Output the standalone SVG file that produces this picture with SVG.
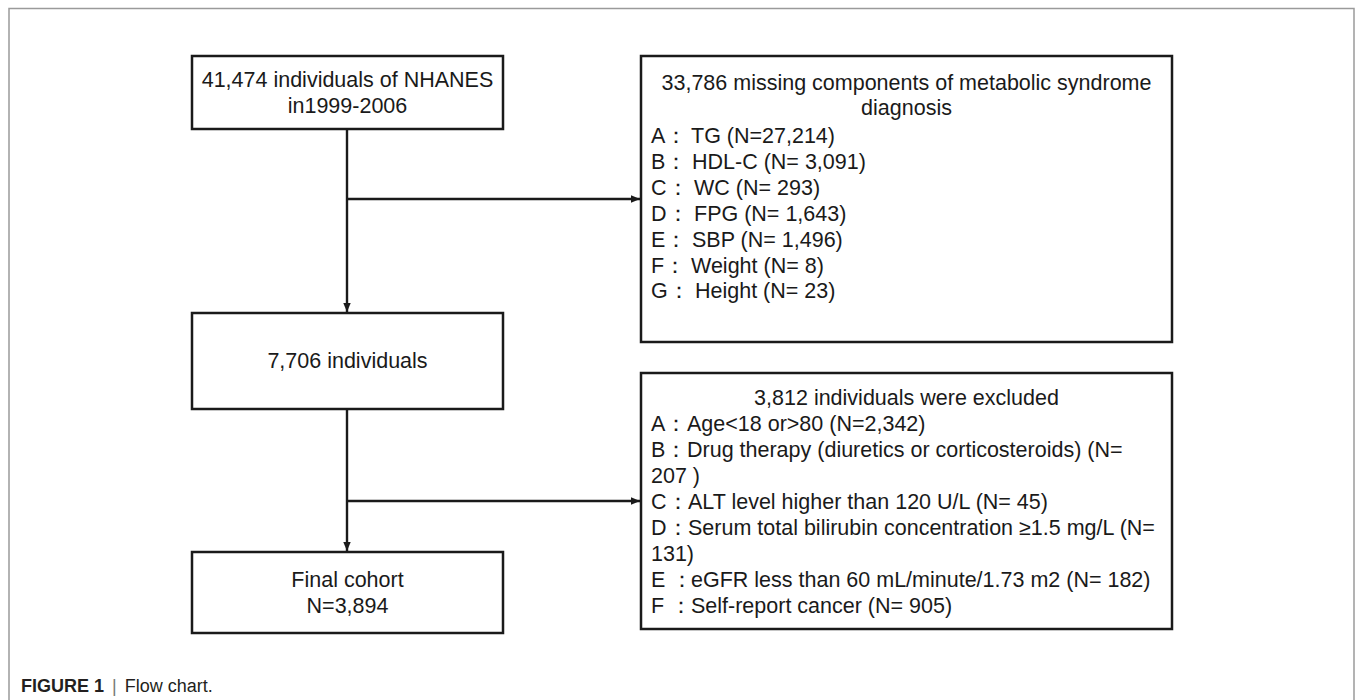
<svg xmlns="http://www.w3.org/2000/svg" width="1355" height="700" viewBox="0 0 1355 700">
<style>
.box{fill:#fff;stroke:#1a1a1a;stroke-width:2.5}
.t{font-family:"Liberation Sans",Arial,sans-serif;font-size:21.5px;fill:#1a1a1a}
.c{text-anchor:middle}
.conn{fill:none;stroke:#1a1a1a;stroke-width:2.4}
.cap{font-family:"Liberation Sans",Arial,sans-serif;font-size:18px;fill:#231f20}
</style>
<defs>
<marker id="ah" markerWidth="10" markerHeight="10" refX="9" refY="4.5" orient="auto" markerUnits="userSpaceOnUse">
<path d="M0,0.8 L9,4.5 L0,8.2 Z" fill="#1a1a1a"/>
</marker>
</defs>
<rect width="1355" height="700" fill="#fff"/>
<path d="M9,700 V8.5 H1354 V700" fill="none" stroke="#9a9a9a" stroke-width="1.5"/>

<g id="connectors">
<path class="conn" d="M347,129 V312" marker-end="url(#ah)"/>
<path class="conn" d="M347,199 H640" marker-end="url(#ah)"/>
<path class="conn" d="M347,409 V551" marker-end="url(#ah)"/>
<path class="conn" d="M347,501 H640" marker-end="url(#ah)"/>
</g>

<g id="n1">
<rect class="box" x="192" y="56" width="311" height="73"/>
<text class="t c" x="347.5" y="87">41,474 individuals of NHANES</text>
<text class="t c" x="347.5" y="113">in1999-2006</text>
</g>

<g id="n2">
<rect class="box" x="641" y="56" width="531" height="286"/>
<text class="t c" x="906.5" y="90">33,786 missing components of metabolic syndrome</text>
<text class="t c" x="906.5" y="115">diagnosis</text>
<text class="t" x="651" y="143">A：<tspan x="691">TG (N=27,214)</tspan></text>
<text class="t" x="651" y="169">B：<tspan x="692">HDL-C (N= 3,091)</tspan></text>
<text class="t" x="651" y="195">C：<tspan x="694">WC (N= 293)</tspan></text>
<text class="t" x="651" y="221">D：<tspan x="694">FPG (N= 1,643)</tspan></text>
<text class="t" x="651" y="247">E：<tspan x="692">SBP (N= 1,496)</tspan></text>
<text class="t" x="651" y="273">F：<tspan x="691">Weight (N= 8)</tspan></text>
<text class="t" x="651" y="298">G：<tspan x="695">Height (N= 23)</tspan></text>
</g>

<g id="n3">
<rect class="box" x="192" y="313" width="311" height="96"/>
<text class="t c" x="347.5" y="368">7,706 individuals</text>
</g>

<g id="n4">
<rect class="box" x="641" y="373" width="531" height="256"/>
<text class="t c" x="906.5" y="405">3,812 individuals were excluded</text>
<text class="t" x="651" y="431">A：<tspan x="687">Age&lt;18 or&gt;80 (N=2,342)</tspan></text>
<text class="t" x="651" y="457">B：<tspan x="687">Drug therapy (diuretics or corticosteroids) (N=</tspan></text>
<text class="t" x="651" y="483">207 )</text>
<text class="t" x="651" y="509">C：<tspan x="688">ALT level higher than 120 U/L (N= 45)</tspan></text>
<text class="t" x="651" y="535">D：<tspan x="688">Serum total bilirubin concentration ≥1.5 mg/L (N=</tspan></text>
<text class="t" x="651" y="561">131)</text>
<text class="t" x="651" y="587">E ：<tspan x="691">eGFR less than 60 mL/minute/1.73 m2 (N= 182)</tspan></text>
<text class="t" x="651" y="613">F ：<tspan x="691">Self-report cancer (N= 905)</tspan></text>
</g>

<g id="n5">
<rect class="box" x="192" y="552" width="311" height="81"/>
<text class="t c" x="347.5" y="587">Final cohort</text>
<text class="t c" x="347.5" y="613">N=3,894</text>
</g>

<text class="cap" x="21" y="692"><tspan font-weight="bold">FIGURE 1</tspan><tspan fill="#777" dx="8">|</tspan><tspan dx="8">Flow chart.</tspan></text>
</svg>
